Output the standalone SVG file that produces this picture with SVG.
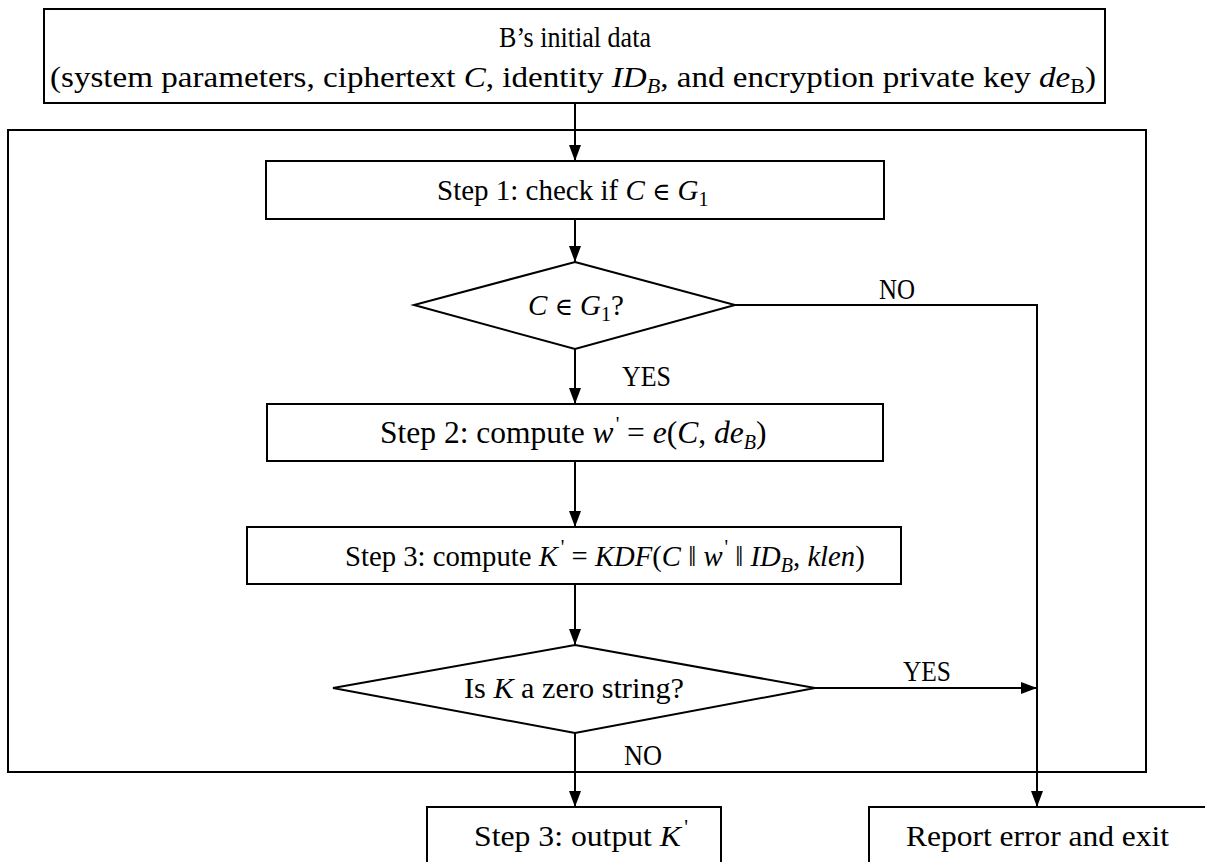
<svg xmlns="http://www.w3.org/2000/svg" width="1205" height="862" viewBox="0 0 1205 862">
  <style>
    .box { fill: #fff; stroke: #000; stroke-width: 2; }
    .frame { fill: none; stroke: #000; stroke-width: 2; }
    .line { fill: none; stroke: #000; stroke-width: 2; }
    text { font-family: "Liberation Serif", "Times New Roman", serif; font-size: 30px; fill: #000; }
    .c { text-anchor: middle; }
    .m { font-style: italic; }
    .sub { font-size: 20px; }
    .rel { font-family: "DejaVu Serif", serif; font-size: 0.85em; }
  </style>
  <defs>
    <marker id="arrow" viewBox="0 0 16 12" refX="16" refY="6" markerWidth="16" markerHeight="12" markerUnits="userSpaceOnUse" orient="auto">
      <path d="M0,0 L16,6 L0,12 Z" fill="#000"/>
    </marker>
  </defs>
  <rect width="1205" height="862" fill="#fff"/>

  <!-- enclosing frame of the decryption procedure -->
  <rect id="frame" class="frame" x="8" y="130" width="1138" height="642"/>

  <g id="connectors">
    <line class="line" x1="575" y1="103" x2="575" y2="161" marker-end="url(#arrow)"/>
    <line class="line" x1="575" y1="219" x2="575" y2="262" marker-end="url(#arrow)"/>
    <line class="line" x1="575" y1="349" x2="575" y2="404" marker-end="url(#arrow)"/>
    <line class="line" x1="575" y1="461" x2="575" y2="527" marker-end="url(#arrow)"/>
    <line class="line" x1="575" y1="584" x2="575" y2="645" marker-end="url(#arrow)"/>
    <line class="line" x1="575" y1="733" x2="575" y2="807" marker-end="url(#arrow)"/>
    <polyline class="line" points="735,305 1037,305 1037,807" marker-end="url(#arrow)"/>
    <line class="line" x1="815" y1="688" x2="1037" y2="688" marker-end="url(#arrow)"/>
    <text x="879" y="299" textLength="36" lengthAdjust="spacingAndGlyphs">NO</text>
    <text x="622" y="386" textLength="49" lengthAdjust="spacingAndGlyphs">YES</text>
    <text x="903" y="681" textLength="48" lengthAdjust="spacingAndGlyphs">YES</text>
    <text x="624" y="765" textLength="38" lengthAdjust="spacingAndGlyphs">NO</text>
  </g>

  <g id="initial-data">
    <rect class="box" x="44" y="9" width="1061" height="94"/>
    <text class="c" x="575" y="47" textLength="152" lengthAdjust="spacingAndGlyphs">B’s initial data</text>
    <text x="50" y="87" textLength="1046" lengthAdjust="spacingAndGlyphs">(system parameters, ciphertext <tspan class="m">C</tspan>, identity <tspan class="m">ID</tspan><tspan class="m sub" dy="6">B</tspan><tspan dy="-6">, and encryption private key </tspan><tspan class="m">de</tspan><tspan class="sub" dy="6">B</tspan><tspan dy="-6">)</tspan></text>
  </g>

  <g id="step1">
    <rect class="box" x="266" y="161" width="618" height="58"/>
    <text x="437" y="200" style="font-size:29px">Step 1: check if <tspan class="m">C</tspan> <tspan class="rel">∈</tspan> <tspan class="m">G</tspan><tspan class="sub" dy="6">1</tspan></text>
  </g>

  <g id="check-g1">
    <polygon class="box" points="575,262 735,305 575,349 414,305"/>
    <text x="528" y="315" style="font-size:29px"><tspan class="m">C</tspan> <tspan class="rel">∈</tspan> <tspan class="m">G</tspan><tspan class="sub" dy="6">1</tspan><tspan dy="-6">?</tspan></text>
  </g>

  <g id="step2">
    <rect class="box" x="267" y="404" width="616" height="57"/>
    <text x="380" y="443" style="font-size:31.5px">Step 2: compute <tspan class="m">w</tspan><tspan class="sub" dx="2" dy="-12">'</tspan><tspan dy="12"> = </tspan><tspan class="m">e</tspan>(<tspan class="m">C</tspan>, <tspan class="m">de</tspan><tspan class="m sub" dy="6">B</tspan><tspan dy="-6">)</tspan></text>
  </g>

  <g id="step3">
    <rect class="box" x="247" y="527" width="654" height="57"/>
    <text x="345" y="566" style="font-size:28.7px">Step 3: compute <tspan class="m">K</tspan><tspan class="sub" dx="3" dy="-12">'</tspan><tspan dy="12"> = </tspan><tspan class="m">KDF</tspan>(<tspan class="m">C</tspan> ‖ <tspan class="m">w</tspan><tspan class="sub" dx="2" dy="-12">'</tspan><tspan dy="12"> ‖ </tspan><tspan class="m">ID</tspan><tspan class="m sub" dy="6">B</tspan><tspan dy="-6">, </tspan><tspan class="m">klen</tspan>)</text>
  </g>

  <g id="zero-check">
    <polygon class="box" points="575,645 815,688 575,733 333,688"/>
    <text x="464" y="698" textLength="220" lengthAdjust="spacingAndGlyphs">Is <tspan class="m">K</tspan> a zero string?</text>
  </g>

  <g id="output">
    <rect class="box" x="427" y="807" width="294" height="70"/>
    <text x="474" y="846" textLength="214" lengthAdjust="spacingAndGlyphs">Step 3: output <tspan class="m">K</tspan><tspan class="sub" dx="3" dy="-12">'</tspan></text>
  </g>

  <g id="report-error">
    <rect class="box" x="869" y="807" width="350" height="70"/>
    <text x="906" y="846" textLength="263" lengthAdjust="spacingAndGlyphs">Report error and exit</text>
  </g>
</svg>
